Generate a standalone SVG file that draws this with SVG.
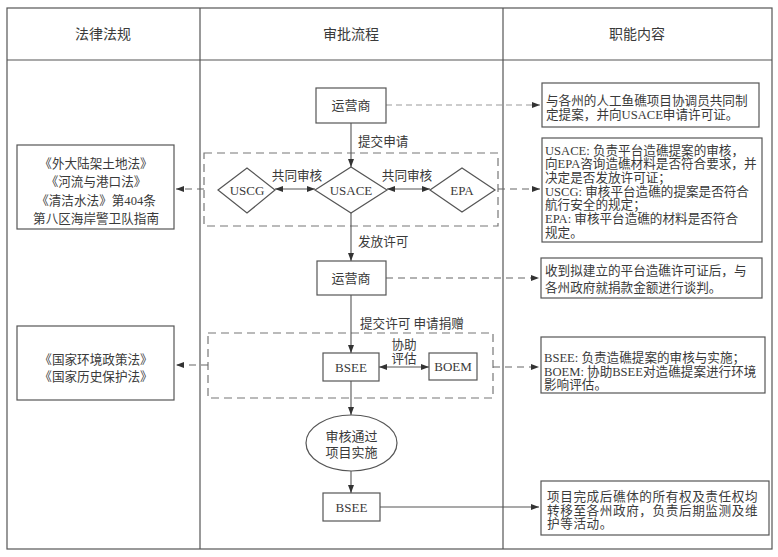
<svg xmlns="http://www.w3.org/2000/svg" width="778" height="557" viewBox="0 0 778 557">
<style>
text{font-family:'Liberation Serif','Noto Sans CJK SC',serif;fill:#3a3a3a;}
.h{font-size:14px;text-anchor:middle;}
.t{font-size:12.6px;}
.c{font-size:12.6px;text-anchor:middle;}
.n{font-size:13px;text-anchor:middle;}
.box{fill:#fff;stroke:#555;stroke-width:1.2;}
.grid{fill:none;stroke:#555;stroke-width:1.2;}
.dbox{fill:none;stroke:#777;stroke-width:1.2;stroke-dasharray:8,5;}
.ln{fill:none;stroke:#555;stroke-width:1.1;}
.dl{fill:none;stroke:#666;stroke-width:1.1;stroke-dasharray:7,5;}
.dl2{fill:none;stroke:#999;stroke-width:1;stroke-dasharray:6,4;}
</style>
<defs>
<marker id="ah" viewBox="0 0 8 6" refX="8" refY="3" markerWidth="8" markerHeight="6" markerUnits="userSpaceOnUse" orient="auto-start-reverse">
<path d="M0,0 L8,3 L0,6 z" fill="#333"/>
</marker>
</defs>
<rect width="778" height="557" fill="#fff"/>
<g id="table">
<rect class="grid" x="7" y="8" width="765" height="541"/>
<line class="grid" x1="7" y1="60" x2="772" y2="60"/>
<line class="grid" x1="200" y1="8" x2="200" y2="549"/>
<line class="grid" x1="503" y1="8" x2="503" y2="549"/>
<text class="h" x="103" y="39">法律法规</text>
<text class="h" x="351" y="39">审批流程</text>
<text class="h" x="637" y="39">职能内容</text>
</g>
<g id="groups">
<rect class="dbox" x="204" y="153" width="294" height="73"/>
<rect class="dbox" x="208" y="333" width="285" height="65"/>
</g>
<g id="connectors">
<line class="ln" x1="351" y1="123" x2="351" y2="167" marker-end="url(#ah)"/>
<line class="ln" x1="351" y1="213" x2="351" y2="261" marker-end="url(#ah)"/>
<line class="ln" x1="351" y1="295" x2="351" y2="353" marker-end="url(#ah)"/>
<line class="ln" x1="351" y1="381" x2="351" y2="415" marker-end="url(#ah)"/>
<line class="ln" x1="351" y1="471" x2="351" y2="493" marker-end="url(#ah)"/>
<line class="ln" x1="275" y1="189" x2="315" y2="189" marker-start="url(#ah)" marker-end="url(#ah)"/>
<line class="ln" x1="387" y1="189" x2="430" y2="189" marker-start="url(#ah)" marker-end="url(#ah)"/>
<line class="ln" x1="379" y1="367" x2="429" y2="367" marker-start="url(#ah)" marker-end="url(#ah)"/>
<line class="dl" x1="204" y1="189" x2="176" y2="189" marker-end="url(#ah)"/>
<line class="dl" x1="208" y1="365" x2="176" y2="365" marker-end="url(#ah)"/>
<line class="dl2" x1="386" y1="105" x2="540" y2="105" marker-end="url(#ah)"/>
<line class="dl" x1="498" y1="189" x2="540" y2="189" marker-end="url(#ah)"/>
<line class="dl" x1="386" y1="278" x2="539" y2="278" marker-end="url(#ah)"/>
<line class="dl" x1="493" y1="367" x2="539" y2="367" marker-end="url(#ah)"/>
<line class="ln" x1="380" y1="507" x2="539" y2="507" marker-end="url(#ah)"/>
<text class="t" x="358" y="145.5">提交申请</text>
<text class="t" x="358" y="245.5">发放许可</text>
<text class="t" x="360" y="327.5">提交许可 申请捐赠</text>
<text class="c" x="297" y="179.5">共同审核</text>
<text class="c" x="407" y="179.5">共同审核</text>
<text class="c" x="404" y="348.5">协助</text>
<text class="c" x="404" y="362.5">评估</text>
</g>
<g id="law1">
<rect class="box" x="17" y="145" width="157" height="84"/>
<text class="c" x="96" y="167.5">《外大陆架土地法》</text>
<text class="c" x="96" y="186">《河流与港口法》</text>
<text class="c" x="96" y="204.5">《清洁水法》第404条</text>
<text class="c" x="96" y="223">第八区海岸警卫队指南</text>
</g>
<g id="law2">
<rect class="box" x="17" y="326" width="157" height="74"/>
<text class="c" x="96" y="364">《国家环境政策法》</text>
<text class="c" x="96" y="381">《国家历史保护法》</text>
</g>
<g id="operator1">
<rect class="box" x="316" y="88" width="70" height="35"/>
<text class="n" x="351" y="110">运营商</text>
</g>
<g id="uscg">
<polygon class="box" points="218,190 247,168 275,190 247,213"/>
<text class="n" x="247" y="194.5">USCG</text>
</g>
<g id="usace">
<polygon class="box" points="315,190 351,167 387,190 351,213"/>
<text class="n" x="351" y="194.5">USACE</text>
</g>
<g id="epa">
<polygon class="box" points="430,190 462,168 495,190 462,212"/>
<text class="n" x="462" y="194.5">EPA</text>
</g>
<g id="operator2">
<rect class="box" x="317" y="261" width="69" height="34"/>
<text class="n" x="351" y="282.5">运营商</text>
</g>
<g id="bsee1">
<rect class="box" x="323" y="353" width="56" height="28"/>
<text class="n" x="351" y="371.5">BSEE</text>
</g>
<g id="boem">
<rect class="box" x="429" y="353" width="48" height="27"/>
<text class="n" x="453" y="371">BOEM</text>
</g>
<g id="approve">
<ellipse class="box" cx="351.5" cy="443" rx="45.5" ry="28"/>
<text class="n" x="351.5" y="440.5">审核通过</text>
<text class="n" x="351.5" y="456.5">项目实施</text>
</g>
<g id="bsee2">
<rect class="box" x="323" y="493" width="57" height="28"/>
<text class="n" x="351.5" y="511.5">BSEE</text>
</g>
<g id="desc1">
<rect class="box" x="542" y="83" width="217" height="44"/>
<text class="t" x="546" y="105">与各州的人工鱼礁项目协调员共同制</text>
<text class="t" x="546" y="119">定提案，并向USACE申请许可证。</text>
</g>
<g id="desc2">
<rect class="box" x="542" y="138" width="220" height="104"/>
<text class="t" x="545" y="154.5">USACE: 负责平台造礁提案的审核，</text>
<text class="t" x="545" y="168.2">向EPA咨询造礁材料是否符合要求，并</text>
<text class="t" x="545" y="181.9">决定是否发放许可证；</text>
<text class="t" x="545" y="195.6">USCG: 审核平台造礁的提案是否符合</text>
<text class="t" x="545" y="209.3">航行安全的规定；</text>
<text class="t" x="545" y="223">EPA: 审核平台造礁的材料是否符合</text>
<text class="t" x="545" y="236.7">规定。</text>
</g>
<g id="desc3">
<rect class="box" x="541" y="258" width="221" height="40"/>
<text class="t" x="545" y="274.5">收到拟建立的平台造礁许可证后，与</text>
<text class="t" x="545" y="291.5">各州政府就捐款金额进行谈判。</text>
</g>
<g id="desc4">
<rect class="box" x="541" y="337" width="224" height="56"/>
<text class="t" x="544" y="361.5">BSEE: 负责造礁提案的审核与实施；</text>
<text class="t" x="544" y="375.5">BOEM: 协助BSEE对造礁提案进行环境</text>
<text class="t" x="544" y="388.5">影响评估。</text>
</g>
<g id="desc5">
<rect class="box" x="541" y="481" width="228" height="54"/>
<text class="t" x="547" y="501" style="letter-spacing:0.6px">项目完成后礁体的所有权及责任权均</text>
<text class="t" x="547" y="514.5" style="letter-spacing:0.6px">转移至各州政府，负责后期监测及维</text>
<text class="t" x="547" y="528" style="letter-spacing:0.6px">护等活动。</text>
</g>
</svg>
